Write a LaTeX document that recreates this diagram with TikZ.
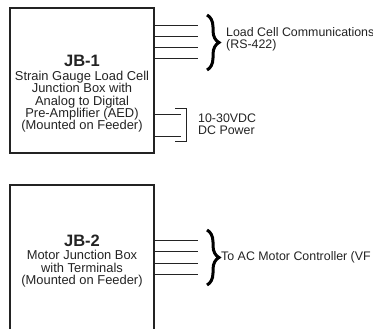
\documentclass[tikz,border=0pt]{standalone}
\usepackage{fontspec}
\setmainfont{Liberation Sans}
\usetikzlibrary{positioning, decorations.pathreplacing}
\definecolor{inkgray}{RGB}{35,35,35}

\begin{document}
\begin{tikzpicture}[
        x=1pt, y=-1pt,
        jbox/.style={rectangle, draw=inkgray, line width=1.1pt, minimum width=144pt, inner sep=0pt},
        jtext/.style={align=center, text=inkgray, font=\fontsize{12.9}{12.4}\selectfont, inner sep=0pt},
        tag/.style={align=left, anchor=west, text=inkgray, font=\fontsize{12.4}{12.4}\selectfont, inner sep=0pt},
        wire/.style={draw=inkgray, line width=0.8pt},
        fatbrace/.style={draw=black, line width=3pt, decorate, decoration={brace, amplitude=12pt, aspect=0.5}}
    ]
        \useasboundingbox (0,0) rectangle (373,329);

        % JB-1
        \node[jbox, minimum height=145pt] (jb1) at (82,80.5) {};
        \node[jtext] (jb1txt) at (82,94) {{\fontsize{16.5}{16}\selectfont\bfseries JB-1}\\[1pt]
            Strain Gauge Load Cell\\Junction Box with\\Analog to Digital\\Pre-Amplifier (AED)\\(Mounted on Feeder)};

        \foreach \i/\y in {1/25, 2/36, 3/47, 4/58}
            \coordinate (com\i) at (198,\y);
        \foreach \i in {1,...,4}
            \draw[wire] (com\i -| jb1.east) -- (com\i);
        \draw[fatbrace] (207,15) -- (207,70);
        \node[tag] (comtag) at (226,39) {Load Cell Communications\\(RS-422)};

        \coordinate (pwr1) at (181,114);
        \coordinate (pwr2) at (181,136);
        \draw[wire] (pwr1 -| jb1.east) -- (pwr1);
        \draw[wire] (pwr2 -| jb1.east) -- (pwr2);
        \draw[wire] (175,108) -- (186,108) -- (186,141) -- (175,141);
        \node[tag] (pwrtag) at (198,124) {10-30VDC\\DC Power};

        % JB-2
        \node[jbox, minimum height=155pt] (jb2) at (82,262.5) {};
        \node[jtext] (jb2txt) at (82,261) {{\fontsize{16.5}{16}\selectfont\bfseries JB-2}\\[1pt]
            Motor Junction Box\\with Terminals\\(Mounted on Feeder)};

        \foreach \i/\y in {1/240, 2/251, 3/263, 4/274}
            \coordinate (mot\i) at (198,\y);
        \foreach \i in {1,...,4}
            \draw[wire] (mot\i -| jb2.east) -- (mot\i);
        \draw[fatbrace] (207,230) -- (207,285);
        \node[tag] (mottag) at (221,257) {To AC Motor Controller (VF};

    \end{tikzpicture}
\end{document}
